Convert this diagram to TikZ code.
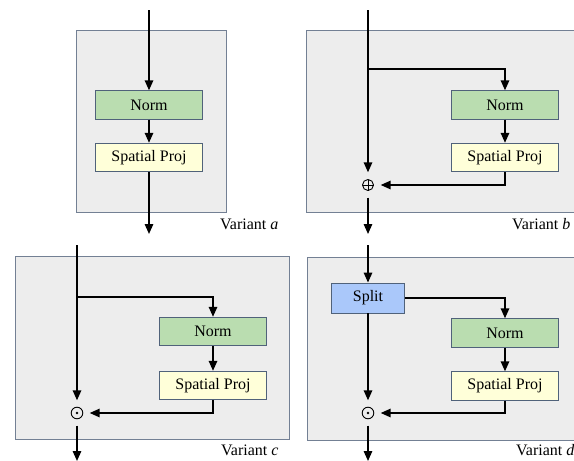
\documentclass[tikz,border=0pt]{standalone}
\usepackage{fontspec}
\setmainfont{Liberation Serif}
\usetikzlibrary{arrows.meta}
\definecolor{panelfill}{RGB}{237,237,237}
\definecolor{paneldraw}{RGB}{115,128,148}
\definecolor{boxdraw}{RGB}{80,98,122}
\definecolor{normfill}{RGB}{186,221,176}
\definecolor{spfill}{RGB}{255,255,217}
\definecolor{splitfill}{RGB}{170,200,250}
\tikzset{
  panel/.style={fill=panelfill, draw=paneldraw, line width=1pt},
  blockbox/.style={draw=boxdraw, line width=0.9pt, minimum height=28.5pt, inner sep=0pt, font=\fontsize{16}{19}\selectfont},
  normbox/.style={blockbox, fill=normfill, minimum width=107pt},
  spbox/.style={blockbox, fill=spfill, minimum width=107pt},
  splitbox/.style={blockbox, fill=splitfill, minimum width=73pt, minimum height=30pt},
  opnode/.style={circle, inner sep=0pt, minimum size=25pt},
  addop/.style={opnode, path picture={
      \draw[line width=0.9pt] (path picture bounding box.center) circle[radius=5.5pt];
      \draw[line width=0.9pt] ([xshift=-5.5pt]path picture bounding box.center) -- ([xshift=5.5pt]path picture bounding box.center);
      \draw[line width=0.9pt] ([yshift=-5.5pt]path picture bounding box.center) -- ([yshift=5.5pt]path picture bounding box.center);}},
  mulop/.style={opnode, path picture={
      \draw[line width=0.9pt] (path picture bounding box.center) circle[radius=5.8pt];
      \fill (path picture bounding box.center) circle[radius=1.3pt];}},
  arr/.style={line width=1.5pt, -{Triangle[length=10pt,width=8.5pt]}},
  varlabel/.style={anchor=west, inner sep=0pt, font=\fontsize{16}{19}\selectfont}
}
\begin{document}
\begin{tikzpicture}[x=1pt,y=-1pt]
\useasboundingbox (0,0) rectangle (574,461);
\clip (0,0) rectangle (574,461);
% panels
\path[panel] (76,30) rectangle (226,212);
\path[panel] (306,30) rectangle (620,212);
\path[panel] (15,256) rectangle (289,439);
\path[panel] (307,257) rectangle (620,440);

% Variant a
\coordinate (a-in) at (149,10);
\node[normbox] (a-norm) at (149,105) {Norm};
\node[spbox] (a-sp) at (149,157.5) {Spatial Proj};
\coordinate (a-out) at (149,234);
\draw[arr] (a-in) -- (a-norm);
\draw[arr] (a-norm) -- (a-sp);
\draw[arr] (a-sp) -- (a-out);
\node[varlabel] (a-lab) at (220,224) {Variant \textit{a}};

% Variant b
\coordinate (b-in) at (368,10);
\coordinate (b-br) at (368,69);
\node[normbox] (b-norm) at (505,105) {Norm};
\node[spbox] (b-sp) at (505,157.5) {Spatial Proj};
\node[addop] (b-add) at (368,185) {};
\coordinate (b-out) at (368,234);
\draw[arr] (b-in) -- (b-add);
\draw[arr] (b-br) -| (b-norm);
\draw[arr] (b-norm) -- (b-sp);
\draw[arr] (b-sp) |- (b-add);
\draw[arr] (b-add) -- (b-out);
\node[varlabel] (b-lab) at (512,224) {Variant \textit{b}};

% Variant c
\coordinate (c-in) at (77,245);
\coordinate (c-br) at (77,297);
\node[normbox] (c-norm) at (213,331.5) {Norm};
\node[spbox] (c-sp) at (213,385.5) {Spatial Proj};
\node[mulop] (c-mul) at (77,413) {};
\coordinate (c-out) at (77,461);
\draw[arr] (c-in) -- (c-mul);
\draw[arr] (c-br) -| (c-norm);
\draw[arr] (c-norm) -- (c-sp);
\draw[arr] (c-sp) |- (c-mul);
\draw[arr] (c-mul) -- (c-out);
\node[varlabel] (c-lab) at (221,450) {Variant \textit{c}};

% Variant d
\coordinate (d-in) at (368,245);
\node[splitbox] (d-split) at (368,298) {Split};
\node[normbox] (d-norm) at (505,333) {Norm};
\node[spbox] (d-sp) at (505,386) {Spatial Proj};
\node[mulop] (d-mul) at (368,413) {};
\coordinate (d-out) at (368,461);
\draw[arr] (d-in) -- (d-split);
\draw[arr] (d-split) -| (d-norm);
\draw[arr] (d-split) -- (d-mul);
\draw[arr] (d-norm) -- (d-sp);
\draw[arr] (d-sp) |- (d-mul);
\draw[arr] (d-mul) -- (d-out);
\node[varlabel] (d-lab) at (516,450) {Variant \textit{d}};
\end{tikzpicture}
\end{document}
